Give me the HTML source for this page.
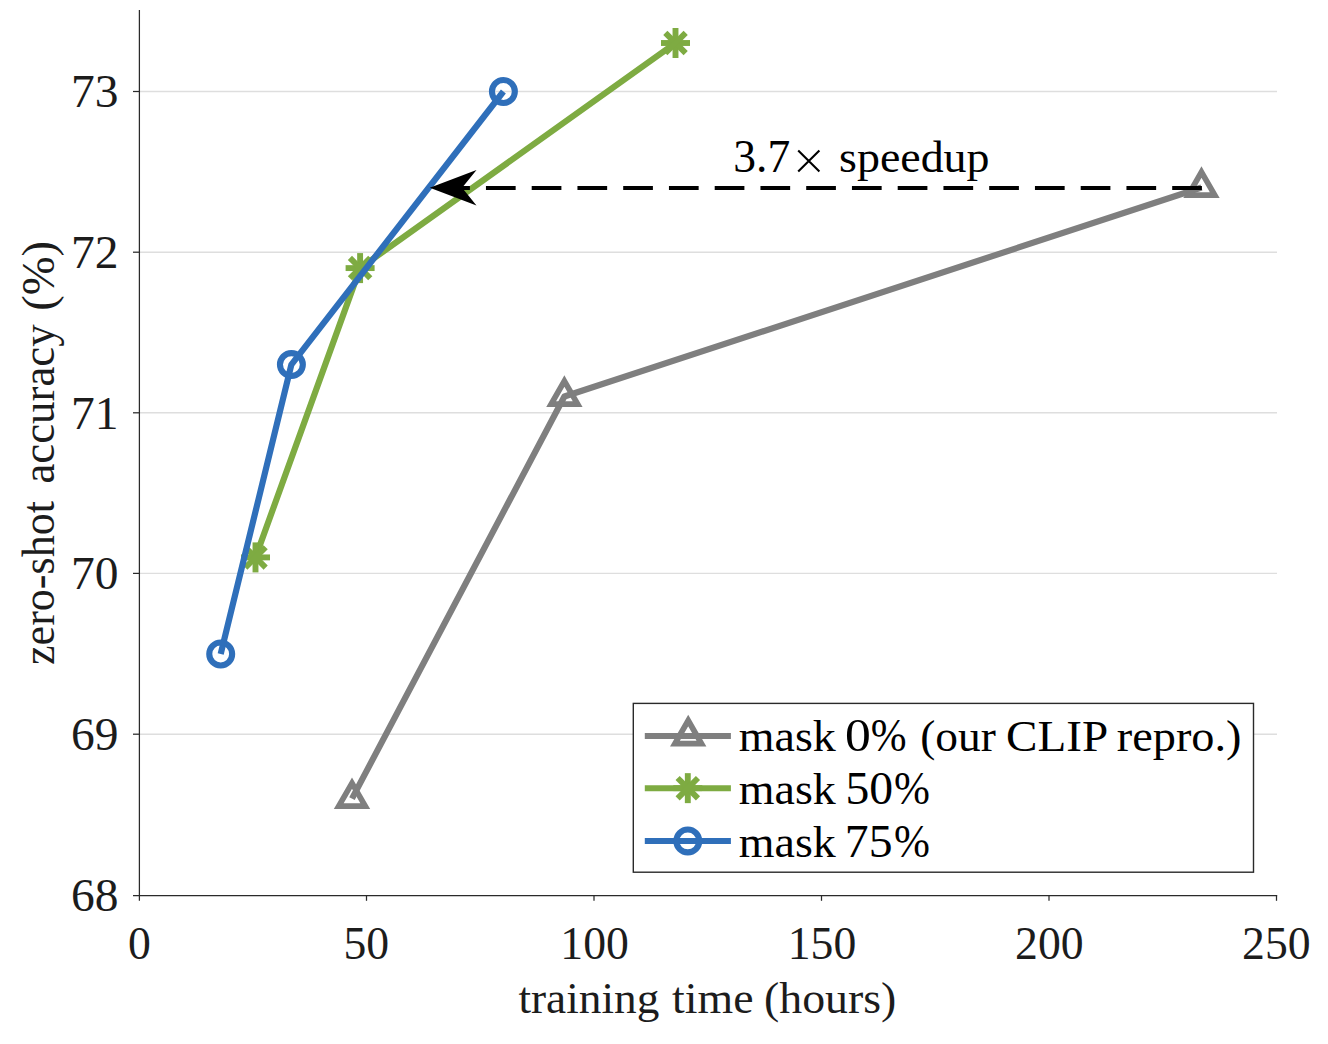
<!DOCTYPE html>
<html>
<head>
<meta charset="utf-8">
<style>
html,body{margin:0;padding:0;background:#fff;}
body{width:1328px;height:1044px;overflow:hidden;font-family:"Liberation Serif",serif;font-size:0;line-height:0;}
svg{display:block;position:absolute;left:0;top:0;}
text{font-family:"Liberation Serif",serif;fill:#1c1c1c;font-size:45px;}
</style>
</head>
<body>
<svg width="1328" height="1044" viewBox="0 0 1328 1044">
<rect width="1328" height="1044" fill="#ffffff"/>
<!-- gridlines -->
<g stroke="#dedede" stroke-width="1.4">
<line x1="139.4" y1="91.5" x2="1277" y2="91.5"/>
<line x1="139.4" y1="252.2" x2="1277" y2="252.2"/>
<line x1="139.4" y1="412.8" x2="1277" y2="412.8"/>
<line x1="139.4" y1="573.4" x2="1277" y2="573.4"/>
<line x1="139.4" y1="734.2" x2="1277" y2="734.2"/>
</g>
<!-- axes -->
<g stroke="#2a2a2a" stroke-width="1.25" fill="none">
<line x1="139.4" y1="10" x2="139.4" y2="900.8"/>
<line x1="133" y1="895.55" x2="1277.2" y2="895.55"/>
<line x1="133" y1="91.5" x2="139.4" y2="91.5"/>
<line x1="133" y1="252.2" x2="139.4" y2="252.2"/>
<line x1="133" y1="412.8" x2="139.4" y2="412.8"/>
<line x1="133" y1="573.4" x2="139.4" y2="573.4"/>
<line x1="133" y1="734.2" x2="139.4" y2="734.2"/>
<line x1="366.5" y1="895.55" x2="366.5" y2="900.8"/>
<line x1="594.0" y1="895.55" x2="594.0" y2="900.8"/>
<line x1="821.5" y1="895.55" x2="821.5" y2="900.8"/>
<line x1="1049.0" y1="895.55" x2="1049.0" y2="900.8"/>
<line x1="1276.5" y1="895.55" x2="1276.5" y2="900.8"/>
</g>
<!-- y tick labels -->
<text transform="translate(118.4,107.4) scale(1.0403,1)" text-anchor="end" style="font-size:45.7px;fill:#1c1c1c;">73</text>
<text transform="translate(118.4,268.1) scale(1.0403,1)" text-anchor="end" style="font-size:45.7px;fill:#1c1c1c;">72</text>
<text transform="translate(118.4,428.7) scale(1.0403,1)" text-anchor="end" style="font-size:45.7px;fill:#1c1c1c;">71</text>
<text transform="translate(118.4,589.3) scale(1.0403,1)" text-anchor="end" style="font-size:45.7px;fill:#1c1c1c;">70</text>
<text transform="translate(118.4,750.1) scale(1.0403,1)" text-anchor="end" style="font-size:45.7px;fill:#1c1c1c;">69</text>
<text transform="translate(118.4,910.9) scale(1.0403,1)" text-anchor="end" style="font-size:45.7px;fill:#1c1c1c;">68</text>
<!-- x tick labels -->
<text transform="translate(139.3,959.1) scale(1.0002,1)" text-anchor="middle" style="font-size:45.7px;fill:#1c1c1c;">0</text>
<text transform="translate(366.3,959.1) scale(1.0002,1)" text-anchor="middle" style="font-size:45.7px;fill:#1c1c1c;">50</text>
<text transform="translate(594.6,959.1) scale(1.0002,1)" text-anchor="middle" style="font-size:45.7px;fill:#1c1c1c;">100</text>
<text transform="translate(822.0,959.1) scale(1.0002,1)" text-anchor="middle" style="font-size:45.7px;fill:#1c1c1c;">150</text>
<text transform="translate(1049.3,959.1) scale(1.0002,1)" text-anchor="middle" style="font-size:45.7px;fill:#1c1c1c;">200</text>
<text transform="translate(1276.3,959.1) scale(1.0002,1)" text-anchor="middle" style="font-size:45.7px;fill:#1c1c1c;">250</text>
<!-- axis titles -->
<text transform="translate(518.45,1013.3) scale(1.0154,1)" text-anchor="start" style="font-size:44.6px;fill:#1c1c1c;">training</text>
<text transform="translate(672.04,1013.3) scale(1.0276,1)" text-anchor="start" style="font-size:44.6px;fill:#1c1c1c;">time</text>
<text transform="translate(764.05,1013.3) scale(1.0273,1)" text-anchor="start" style="font-size:44.6px;fill:#1c1c1c;">(hours)</text>
<text transform="translate(54.25,663.75) rotate(-90) translate(-1.21,0) scale(0.958,1)" style="font-size:46.0px;fill:#1c1c1c">zero-shot</text>
<text transform="translate(54.25,482.0) rotate(-90) translate(-1.57,0) scale(0.9741,1)" style="font-size:46.0px;fill:#1c1c1c">accuracy</text>
<text transform="translate(54.25,308.75) rotate(-90) translate(-1.98,0) scale(1.0119,1)" style="font-size:46.0px;fill:#1c1c1c">(%)</text>
<!-- gray series -->
<polyline points="352.0,798.6 564.4,396.5 1201.5,187.5" fill="none" stroke="#7f7f7f" stroke-width="6.2" stroke-linejoin="round"/>
<path d="M352.00,783.15 L365.25,806.20 L338.75,806.20 Z" fill="none" stroke="#7f7f7f" stroke-width="5.7" stroke-linejoin="miter" stroke-miterlimit="10"/>
<path d="M564.40,381.05 L577.65,404.10 L551.15,404.10 Z" fill="none" stroke="#7f7f7f" stroke-width="5.7" stroke-linejoin="miter" stroke-miterlimit="10"/>
<path d="M1201.50,172.05 L1214.75,195.10 L1188.25,195.10 Z" fill="none" stroke="#7f7f7f" stroke-width="5.7" stroke-linejoin="miter" stroke-miterlimit="10"/>
<!-- green series -->
<polyline points="255.5,557.4 360.1,268.1 675.5,43.0" fill="none" stroke="#7eab42" stroke-width="6.2" stroke-linejoin="round"/>
<g stroke="#7eab42" stroke-width="5.9" stroke-linecap="butt"><line x1="241.00" y1="557.40" x2="270.00" y2="557.40"/><line x1="255.50" y1="542.40" x2="255.50" y2="572.40"/><line x1="245.32" y1="547.22" x2="265.68" y2="567.58"/><line x1="245.32" y1="567.58" x2="265.68" y2="547.22"/></g>
<g stroke="#7eab42" stroke-width="5.9" stroke-linecap="butt"><line x1="345.60" y1="268.10" x2="374.60" y2="268.10"/><line x1="360.10" y1="253.10" x2="360.10" y2="283.10"/><line x1="349.92" y1="257.92" x2="370.28" y2="278.28"/><line x1="349.92" y1="278.28" x2="370.28" y2="257.92"/></g>
<g stroke="#7eab42" stroke-width="5.9" stroke-linecap="butt"><line x1="661.00" y1="43.00" x2="690.00" y2="43.00"/><line x1="675.50" y1="28.00" x2="675.50" y2="58.00"/><line x1="665.32" y1="32.82" x2="685.68" y2="53.18"/><line x1="665.32" y1="53.18" x2="685.68" y2="32.82"/></g>
<!-- blue series -->
<polyline points="220.7,654 291.4,364.6 503.4,91.5" fill="none" stroke="#2f6fba" stroke-width="6.2" stroke-linejoin="round"/>
<circle cx="220.70" cy="654.00" r="11.45" fill="none" stroke="#2f6fba" stroke-width="6.1"/>
<circle cx="291.40" cy="364.60" r="11.45" fill="none" stroke="#2f6fba" stroke-width="6.1"/>
<circle cx="503.40" cy="91.50" r="11.45" fill="none" stroke="#2f6fba" stroke-width="6.1"/>
<!-- dashed arrow -->
<line x1="1201.9" y1="188.0" x2="461" y2="188.0" stroke="#000" stroke-width="4.2" stroke-dasharray="29.7 16.05"/>
<path d="M429.8,187.7 L476.5,170.1 L462.1,187.7 L476.5,205.4 Z" fill="#000"/>
<!-- annotation -->
<text transform="translate(733.34,172.3) scale(0.9963,1)" text-anchor="start" style="font-size:45.7px;fill:#000;">3.7</text>
<path d="M798.2,150.4 L819.4,171.6 M819.4,150.4 L798.2,171.6" stroke="#000" stroke-width="2.1" fill="none"/>
<text transform="translate(839.06,172.3) scale(1.0297,1)" text-anchor="start" style="font-size:44.6px;fill:#000;">speedup</text>
<!-- legend -->
<rect x="633.3" y="703.4" width="620.2" height="168.8" fill="#fff" stroke="#2a2a2a" stroke-width="1.4"/>
<line x1="644.8" y1="735.95" x2="730.9" y2="735.95" stroke="#7f7f7f" stroke-width="6.0"/>
<line x1="644.8" y1="788.15" x2="730.9" y2="788.15" stroke="#7eab42" stroke-width="6.0"/>
<line x1="644.8" y1="840.95" x2="730.9" y2="840.95" stroke="#2f6fba" stroke-width="6.0"/>
<path d="M688.20,720.50 L701.45,743.55 L674.95,743.55 Z" fill="none" stroke="#7f7f7f" stroke-width="5.7" stroke-linejoin="miter" stroke-miterlimit="10"/>
<g stroke="#7eab42" stroke-width="5.9" stroke-linecap="butt"><line x1="673.30" y1="788.15" x2="702.30" y2="788.15"/><line x1="687.80" y1="773.15" x2="687.80" y2="803.15"/><line x1="677.62" y1="777.97" x2="697.98" y2="798.33"/><line x1="677.62" y1="798.33" x2="697.98" y2="777.97"/></g>
<circle cx="687.80" cy="840.95" r="11.45" fill="none" stroke="#2f6fba" stroke-width="6.1"/>
<text transform="translate(738.84,751.3) scale(1.0292,1)" text-anchor="start" style="font-size:44.6px;fill:#000;">mask</text>
<text transform="translate(844.96,751.3) scale(1.1301,1)" text-anchor="start" style="font-size:45.7px;fill:#000;">0</text>
<text transform="translate(870.79,751.3) scale(0.9411,1)" text-anchor="start" style="font-size:45.7px;fill:#000;">%</text>
<text transform="translate(920.17,751.3) scale(1.0176,1)" text-anchor="start" style="font-size:44.6px;fill:#000;">(our</text>
<text transform="translate(1006.01,751.3) scale(1.0569,1)" text-anchor="start" style="font-size:44.6px;fill:#000;">CLIP</text>
<text transform="translate(1116.77,751.3) scale(1.0392,1)" text-anchor="start" style="font-size:44.6px;fill:#000;">repro.)</text>
<text transform="translate(738.84,804.2) scale(1.0292,1)" text-anchor="start" style="font-size:44.6px;fill:#000;">mask</text>
<text transform="translate(845.46,804.2) scale(1.0445,1)" text-anchor="start" style="font-size:45.7px;fill:#000;">50</text>
<text transform="translate(894.09,804.2) scale(0.9439,1)" text-anchor="start" style="font-size:45.7px;fill:#000;">%</text>
<text transform="translate(738.84,857.1) scale(1.0292,1)" text-anchor="start" style="font-size:44.6px;fill:#000;">mask</text>
<text transform="translate(844.8,857.1) scale(1.044,1)" text-anchor="start" style="font-size:45.7px;fill:#000;">75</text>
<text transform="translate(894.09,857.1) scale(0.9439,1)" text-anchor="start" style="font-size:45.7px;fill:#000;">%</text>
</svg>
</body>
</html>
